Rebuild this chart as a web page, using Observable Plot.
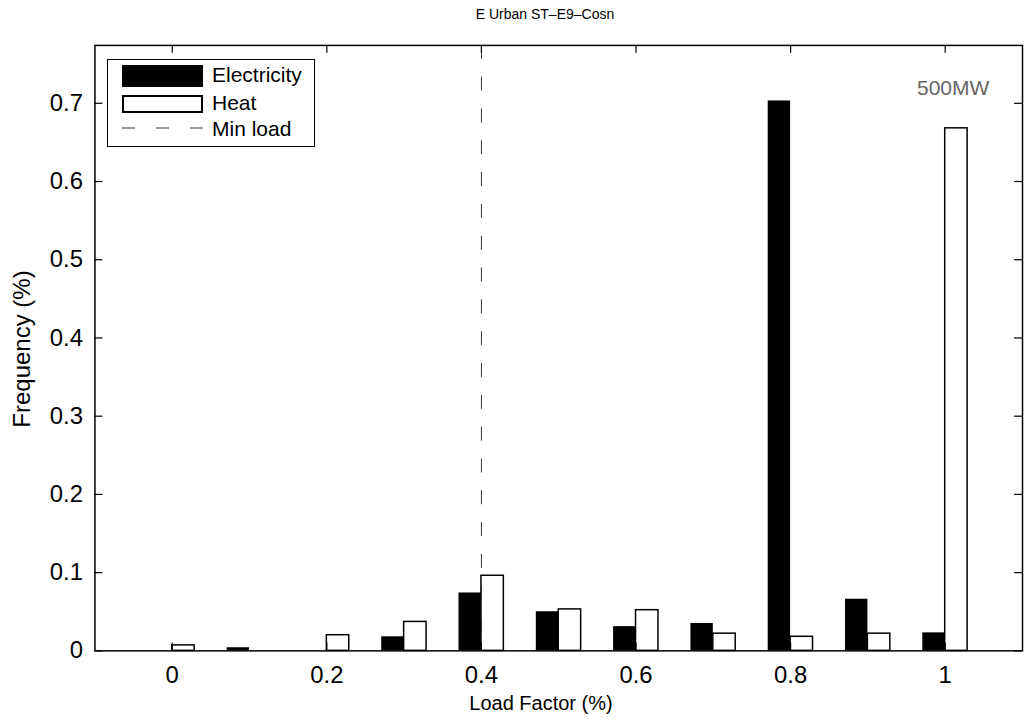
<!DOCTYPE html>
<html><head><meta charset="utf-8">
<script src="https://cdn.jsdelivr.net/npm/d3@7"></script>
<script src="https://cdn.jsdelivr.net/npm/@observablehq/plot@0.6"></script>
<style>
html,body{margin:0;padding:0;width:1024px;height:724px;overflow:hidden;background:#fff;font-family:"Liberation Sans",Arial,sans-serif;color:#000;}
#title{position:absolute;left:445px;width:200px;top:5px;text-align:center;font-size:14px;line-height:18px;}
#chart{position:absolute;left:0;top:30px;}
#xlabel{position:absolute;left:441px;width:200px;top:693px;text-align:center;font-size:20px;line-height:20px;}
#ylabel{position:absolute;left:22px;top:349px;width:0;height:0;}
#ylabel span{position:absolute;left:0;top:0;transform:translate(-50%,-50%) rotate(-90deg);white-space:nowrap;font-size:24px;line-height:24px;}
#note{position:absolute;left:917px;top:76px;font-size:21px;line-height:24px;color:#666;}
#legend{position:absolute;left:107px;top:59px;width:208px;height:88px;box-sizing:border-box;border:1.5px solid #000;background:#fff;}
.sw{position:absolute;left:14px;width:81px;box-sizing:border-box;}
.lt{position:absolute;left:104px;font-size:21px;line-height:22px;white-space:nowrap;}
</style></head><body>
<div id="title">E Urban ST–E9–Cosn</div>
<div id="chart"></div>
<div id="xlabel">Load Factor (%)</div>
<div id="ylabel"><span>Frequency (%)</span></div>
<div id="note">500MW</div>
<div id="legend">
  <div class="sw" style="top:5px;height:22px;background:#000;"></div>
  <div class="lt" style="top:4px;">Electricity</div>
  <div class="sw" style="top:35px;height:18px;background:#fff;border:2px solid #000;"></div>
  <div class="lt" style="top:32px;">Heat</div>
  <svg class="sw" style="top:64px;height:8px;" width="81" height="8"><line x1="0" x2="81" y1="4" y2="4" stroke="#333" stroke-width="1" stroke-dasharray="13,21"/></svg>
  <div class="lt" style="top:58px;">Min load</div>
</div>
<script>
const loadFactor = [0, 0.1, 0.2, 0.3, 0.4, 0.5, 0.6, 0.7, 0.8, 0.9, 1.0];
const electricity = [0, 0.004, 0, 0.018, 0.074, 0.050, 0.031, 0.035, 0.703, 0.066, 0.023];
const heat = [0.007, 0, 0.020, 0.037, 0.096, 0.053, 0.052, 0.022, 0.018, 0.022, 0.668];
const xTicks = [0, 0.2, 0.4, 0.6, 0.8, 1];
const yTicks = [0, 0.1, 0.2, 0.3, 0.4, 0.5, 0.6, 0.7];
const minLoad = [0.4];

const rows = loadFactor.map((x, i) => ({x, e: electricity[i], h: heat[i]}));
const half = 0.029;
const W = 1030, H = 694, mL = 95, mR = 2, mT = 15, mB = 70;
const fw = W - mL - mR, fh = H - mT - mB;

const chart = Plot.plot({
  width: W, height: H,
  marginLeft: mL, marginRight: mR, marginTop: mT, marginBottom: mB,
  style: {fontFamily: "Liberation Sans, Arial, sans-serif", fontSize: "24px", background: "white", color: "black"},
  x: {domain: [-0.1, 1.1]},
  y: {domain: [0, 0.774]},
  marks: [
    Plot.rect(rows, {x1: d => d.x - half, x2: d => d.x, y1: 0, y2: "e", fill: "black"}),
    Plot.rect(rows, {x1: d => d.x, x2: d => d.x + half, y1: 0, y2: "h", fill: "white", stroke: "black", strokeWidth: 1.5}),
    Plot.ruleX(minLoad, {stroke: "#333", strokeWidth: 1, strokeDasharray: "14,18"}),
    Plot.tickY(yTicks, {y: d => d, insetRight: fw - 8, strokeWidth: 1.2}),
    Plot.tickY(yTicks, {y: d => d, insetLeft: fw - 8, strokeWidth: 1.2}),
    Plot.tickX(xTicks, {x: d => d, insetTop: fh - 8, strokeWidth: 1.2}),
    Plot.tickX(xTicks, {x: d => d, insetBottom: fh - 8, strokeWidth: 1.2}),
    Plot.axisX({ticks: xTicks, tickSize: 0, tickPadding: 15, label: null, tickFormat: d => String(d)}),
    Plot.axisY({ticks: yTicks, tickSize: 0, tickPadding: 12, label: null, tickFormat: d => String(d)}),
    Plot.frame({stroke: "black", strokeWidth: 1.5})
  ]
});
document.getElementById("chart").appendChild(chart);
</script>
</body></html>
